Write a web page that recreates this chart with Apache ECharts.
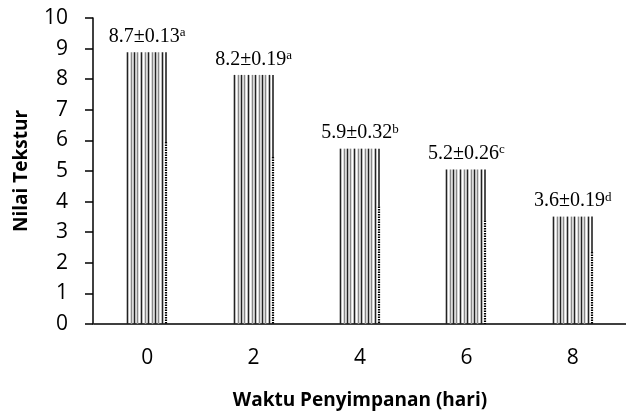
<!DOCTYPE html>
<html>

<head>
    <meta charset="utf-8">
    <title>Nilai Tekstur</title>
    <script src="https://cdn.jsdelivr.net/npm/echarts@6/dist/echarts.min.js"></script>
</head>

<body style="margin:0">
    <div id="main" style="width: 626px;height:415px;"></div>
    <script type="text/javascript">
        // data
        var days = ['0', '2', '4', '6', '8'];
        var texture = [8.88, 8.14, 5.73, 5.05, 3.51];
        var meanSd = ['8.7±0.13', '8.2±0.19', '5.9±0.32', '5.2±0.26', '3.6±0.19'];
        var letters = ['a', 'a', 'b', 'c', 'd'];

        // vertical stripe layout inside one bar (offset px, colour)
        var stripes = [
            [0, '#222'], [4, '#888'], [7, '#222'], [10, '#888'], [14, '#222'], [18, '#888'],
            [21, '#222'], [25, '#888'], [28, '#222'], [31, '#888'], [35, '#222']
        ];
        var barW = 40;

        var myChart = echarts.init(document.getElementById('main'));

        function renderStripes(params, api) {
            var top = api.coord([api.value(0), api.value(1)]);
            var base = api.coord([api.value(0), 0]);
            var x0 = Math.round(top[0] - barW / 2);
            var children = [];
            stripes.forEach(function (s) {
                children.push({
                    type: 'line',
                    shape: { x1: x0 + s[0] + 0.5, y1: top[1], x2: x0 + s[0] + 0.5, y2: base[1] },
                    style: { stroke: s[1], lineWidth: 1.6 }
                });
            });
            // dotted right edge on the lower part, plain line above it
            var h = base[1] - top[1];
            var xr = x0 + barW - 1;
            children.push({
                type: 'line',
                shape: { x1: xr, y1: top[1], x2: xr, y2: base[1] - h * 0.67 },
                style: { stroke: '#222', lineWidth: 1.6 }
            });
            children.push({
                type: 'line',
                shape: { x1: xr, y1: base[1] - h * 0.67, x2: xr, y2: base[1] },
                style: { stroke: '#000', lineWidth: 2.2, lineDash: [1.5, 1] }
            });
            return { type: 'group', children: children };
        }

        var option = {
            animation: false,
            grid: { left: 94, right: -8, top: 18, bottom: 86 },
            xAxis: {
                type: 'category',
                data: days,
                name: 'Waktu Penyimpanan (hari)',
                nameLocation: 'middle',
                nameGap: 67,
                nameTextStyle: { fontFamily: 'Open Sans', fontWeight: 'bold', fontSize: 19, color: '#000' },
                axisLine: { lineStyle: { color: '#000', width: 1.5 } },
                axisTick: { length: 7, lineStyle: { color: '#000', width: 1.5 } },
                axisLabel: { fontFamily: 'Open Sans', fontSize: 21, color: '#000', margin: 24 }
            },
            yAxis: {
                type: 'value',
                min: 0,
                max: 10,
                interval: 1,
                offset: 1,
                name: 'Nilai Tekstur',
                nameLocation: 'middle',
                nameGap: 62,
                nameTextStyle: { fontFamily: 'Open Sans', fontWeight: 'bold', fontSize: 19, color: '#000' },
                splitLine: { show: false },
                axisLine: { show: true, lineStyle: { color: '#000', width: 1.5 } },
                axisTick: { show: true, length: 8, lineStyle: { color: '#000', width: 1.5 } },
                axisLabel: { fontFamily: 'Open Sans', fontSize: 21, color: '#000', margin: 25 }
            },
            series: [{
                type: 'bar',
                data: texture,
                barWidth: barW,
                itemStyle: { color: 'rgba(0,0,0,0)' },
                label: {
                    show: true,
                    position: 'top',
                    distance: 5,
                    formatter: function (p) {
                        return '{v|' + meanSd[p.dataIndex] + '}{s|' + letters[p.dataIndex] + '}';
                    },
                    rich: {
                        v: { fontFamily: 'Liberation Serif', fontSize: 20, color: '#000', lineHeight: 21 },
                        s: { fontFamily: 'Liberation Serif', fontSize: 13, color: '#000', verticalAlign: 'top', lineHeight: 13 }
                    }
                },
                z: 3
            }, {
                type: 'custom',
                data: texture.map(function (v, i) { return [i, v]; }),
                encode: { x: 0, y: 1 },
                renderItem: renderStripes,
                z: 2
            }]
        };

        myChart.setOption(option);
    </script>
</body>

</html>
